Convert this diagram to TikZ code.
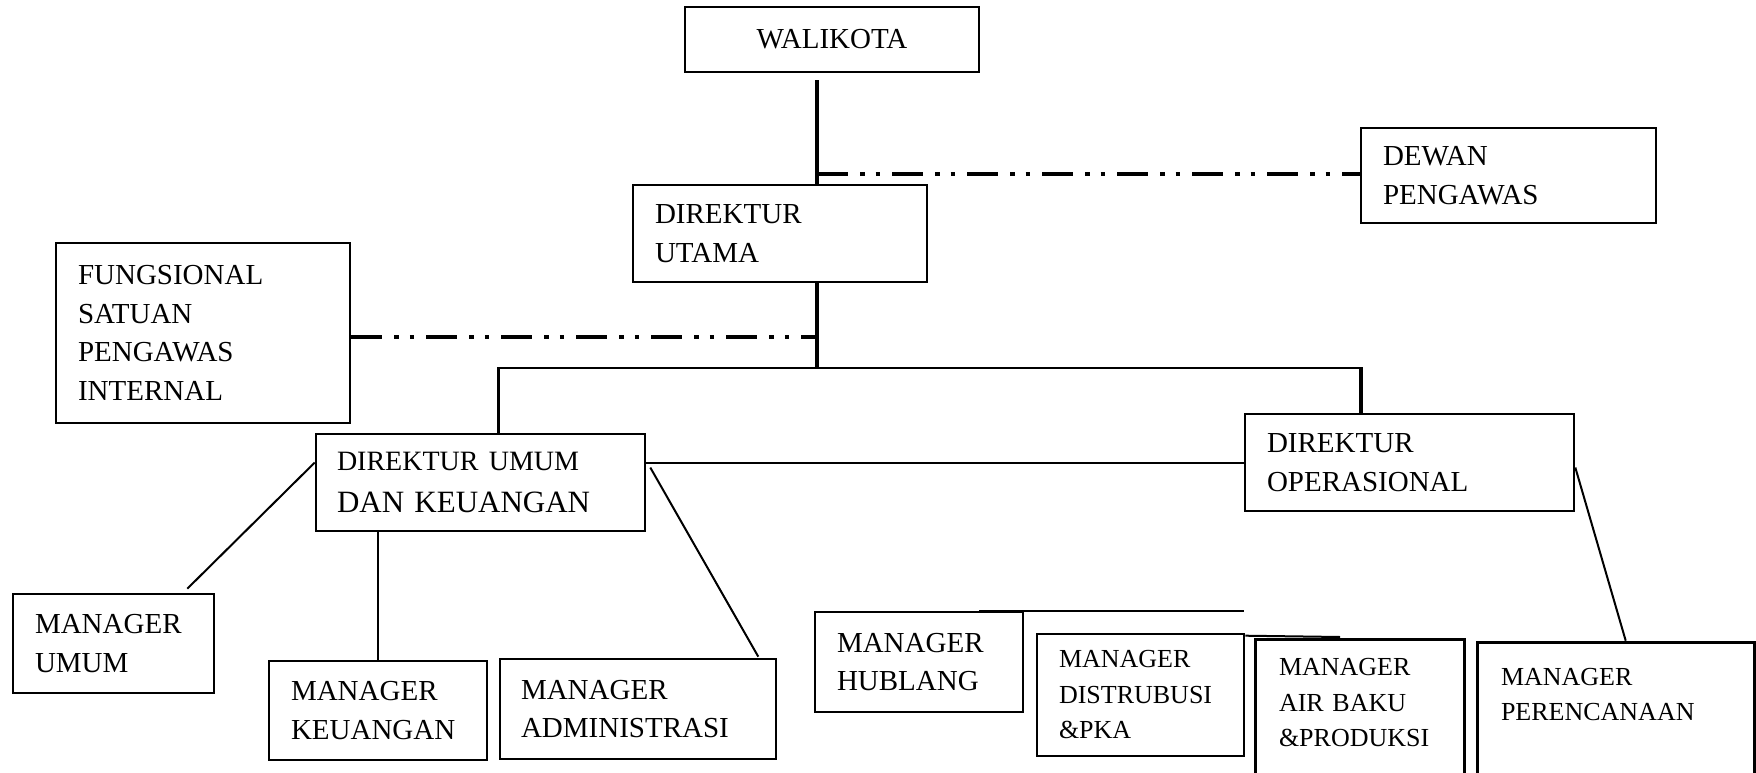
\documentclass[tikz,border=0pt]{standalone}
\usepackage{fontspec}
\setmainfont{Liberation Serif}
\usetikzlibrary{calc}
\newcommand{\mainfs}{\fontsize{29}{38.5}\selectfont}
\newcommand{\smallfs}{\fontsize{26}{35.5}\selectfont}
\begin{document}
\begin{tikzpicture}[x=1pt,y=-1pt,
  box/.style={draw, line width=2.6pt, rectangle, inner xsep=22pt, inner ysep=0pt, align=left, font=\mainfs},
  openbox/.style={box, draw=none},
  conn/.style={line width=2pt},
  spineline/.style={line width=4pt},
  dashdd/.style={line width=4pt, dash pattern=on 31pt off 12pt on 4.5pt off 11pt on 4.5pt off 12pt},
]
\useasboundingbox (0,0) rectangle (1756,773);
% boxes
\node[box, align=center, text width=250pt, minimum height=65pt] (walikota) at (832,39.5) {WALIKOTA};
\node[box, text width=250pt, minimum height=97pt] (dirut) at (780,233.5) {DIREKTUR\\UTAMA};
\node[box, text width=251pt, minimum height=95pt] (dewan) at (1508.5,175.5) {DEWAN\\PENGAWAS};
\node[box, text width=250pt, minimum height=180pt] (fungsional) at (203,333) {FUNGSIONAL\\SATUAN\\PENGAWAS\\INTERNAL};
\node[box, inner xsep=21pt, text width=287pt, minimum height=97pt, font=\fontsize{31}{41.5}\selectfont] (dirumum) at (480.5,482.5) {{\fontsize{28}{38}\selectfont DIREKTUR UMUM}\\DAN KEUANGAN};
\node[box, text width=285pt, minimum height=97pt] (dirops) at (1409.5,462.5) {DIREKTUR\\OPERASIONAL};
\node[box, text width=157pt, minimum height=99pt] (mumum) at (113.5,643.5) {MANAGER\\UMUM};
\node[box, text width=174pt, minimum height=99pt] (mkeu) at (378,710.5) {MANAGER\\KEUANGAN};
\node[box, inner xsep=21pt, text width=234pt, minimum height=100pt] (madm) at (638,709) {MANAGER\\ADMINISTRASI};
\node[box, text width=164pt, minimum height=100pt] (mhub) at (919,662) {MANAGER\\HUBLANG};
\node[box, text width=163pt, minimum height=122pt, font=\smallfs] (mdist) at (1140.5,695) {MANAGER\\DISTRUBUSI\\\&PKA};
\node[openbox, text width=162pt, minimum height=124pt, font=\smallfs] (mair) at (1360,703) {MANAGER\\AIR BAKU\\\&PRODUKSI};
\node[openbox, text width=230pt, minimum height=101pt, font=\smallfs] (mren) at (1616,694.5) {MANAGER\\PERENCANAAN};
\draw[line width=2.6pt] ([yshift=-60pt]mair.south west) -- (mair.north west) -- (mair.north east) -- ([yshift=-60pt]mair.south east);
\draw[line width=2.6pt] ([yshift=-60pt]mren.south west) -- (mren.north west) -- (mren.north east) -- ([yshift=-60pt]mren.south east);
% coordinates
\coordinate (spine) at (817,0);
\coordinate (barL) at (498,368);
\coordinate (barR) at (1361,368);
\coordinate (dewanrow) at (0,174);
\coordinate (fsrow) at (0,337);
\coordinate (distend) at (1340,637);
% spine
\draw[spineline] ($(walikota.south -| spine)+(0,7)$) -- (spine |- dirut.north);
\draw[spineline] (spine |- dirut.south) -- (spine |- barL);
% bar
\draw[conn] (barL) -- (barR);
\draw[line width=3pt] ($(barL)+(0,-1)$) -- (barL |- dirumum.north);
\draw[line width=3.5pt] ($(barR)+(0,-1)$) -- (barR |- dirops.north);
% dash-dot lines
\draw[dashdd] (spine |- dewanrow) -- (dewan.west |- dewanrow);
\draw[dashdd] (fungsional.east |- fsrow) -- (spine |- fsrow);
% second level
\draw[conn] (dirumum.east |- dirops.west) -- (dirops.west);
\draw[conn] ($(dirumum.north west)!0.3!(dirumum.south west)$) -- ($(mumum.north east)+(-28,-4)$);
\draw[conn] (dirumum.south -| mkeu.north) -- (mkeu.north);
\draw[conn] ($(dirumum.north east)!0.35!(dirumum.south east)+(4,0)$) -- ($(madm.north east)+(-19,-1)$);
\draw[conn] ($(dirops.north east)!0.55!(dirops.south east)$) -- ($(mren.north west)+(148,-2)$);
\draw[conn] ($(mhub.north east)+(-45,0)$) -- (mhub.north -| dirops.west);
\draw[conn] ($(mdist.north east)+(0,3)$) -- (distend);
\end{tikzpicture}
\end{document}
